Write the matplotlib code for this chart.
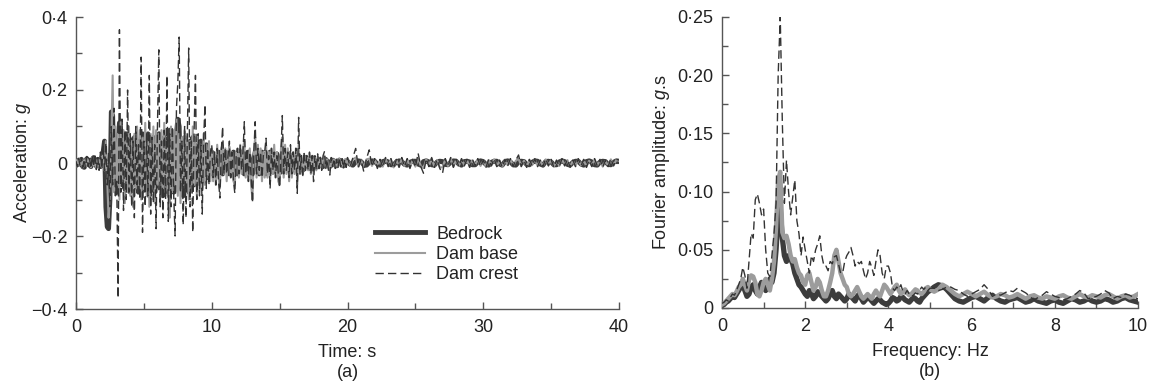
import numpy as np
import matplotlib
matplotlib.use("Agg")
import matplotlib.pyplot as plt
from matplotlib.ticker import MultipleLocator, FuncFormatter

plt.rcParams['font.family'] = ['Liberation Sans', 'DejaVu Sans']
plt.rcParams['mathtext.fontset'] = 'custom'
plt.rcParams['mathtext.it'] = 'Liberation Sans:italic'
plt.rcParams['mathtext.rm'] = 'Liberation Sans'

# ---------------- time histories (g) ----------------
# 0-20 s at 0.1 s, then 20.2-40 s at 0.2 s
time_early = np.round(np.arange(0, 20.001, 0.1), 2)
time_late = np.round(np.arange(20.2, 40.001, 0.2), 2)
time_s = np.concatenate([time_early, time_late])

crest_early = [
    0.005, -0.010, 0.012, -0.008, 0.015, -0.012, 0.010, -0.015, 0.018, -0.010,
    0.012, -0.015, 0.022, -0.010, 0.025, -0.018, 0.015, -0.020, 0.030, -0.015,
    0.045, -0.020, 0.055, -0.060, 0.030, -0.120, 0.100, -0.060, 0.150, -0.090,
    -0.050, -0.370, 0.365, -0.080, 0.120, -0.130, 0.090, -0.100, 0.200, -0.080,
    0.080, -0.120, 0.060, -0.150, 0.100, -0.060, 0.050, -0.100, 0.290, -0.190,
    0.060, -0.120, 0.080, -0.090, 0.240, -0.140, 0.070, -0.110, 0.050, -0.180,
    0.100, 0.310, -0.120, 0.060, -0.150, 0.090, -0.100, 0.240, -0.160, 0.080,
    -0.120, 0.100, -0.090, -0.200, 0.150, 0.220, 0.345, -0.080, 0.060, -0.170,
    0.100, -0.150, 0.070, 0.315, -0.120, 0.060, -0.190, 0.090, 0.240, -0.100,
    0.080, -0.090, 0.050, -0.140, 0.060, 0.160, -0.070, 0.040, -0.060, 0.030,
    0.050, -0.040, 0.030, -0.060, 0.040, -0.050, -0.096, 0.030, 0.100, -0.030,
    0.040, -0.030, 0.020, 0.060, -0.040, 0.030, -0.050, -0.083, 0.020, 0.040,
    -0.030, 0.050, -0.020, 0.030, 0.113, -0.030, 0.040, -0.050, 0.030, -0.040,
    -0.109, 0.030, 0.113, -0.030, 0.040, -0.020, 0.030, -0.040, 0.020, 0.030,
    0.068, -0.030, 0.020, -0.070, 0.040, -0.020, 0.030, -0.040, 0.020, -0.030,
    -0.067, 0.030, 0.130, -0.030, 0.040, -0.020, 0.030, -0.040, 0.050, -0.030,
    0.030, -0.020, 0.040, -0.083, 0.125, -0.030, 0.020, -0.040, 0.030, -0.020,
    0.020, -0.020, 0.030, -0.030, 0.020, -0.051, 0.020, -0.020, 0.025, -0.015,
    0.015, -0.020, 0.020, 0.031, -0.015, 0.010, -0.020, -0.033, 0.015, -0.010,
    0.012, -0.015, 0.010, -0.012, 0.015, -0.010, 0.012, -0.015, 0.010, -0.012,
    0.015,
]
crest_late = [
    -0.010, 0.015, 0.040, -0.012, 0.010,
    -0.024, 0.012, 0.036, -0.010, 0.012,
    -0.015, 0.010, -0.012, 0.015, -0.010,
    0.012, -0.015, 0.010, -0.012, 0.015,
    -0.010, 0.012, -0.015, 0.010, -0.012,
    0.027, -0.010, -0.028, 0.012, -0.010,
    0.015, -0.012, 0.010, -0.015, -0.028,
    0.012, -0.010, 0.015, -0.012, 0.010,
    -0.010, 0.012, -0.008, 0.010, -0.012,
    0.010, -0.008, 0.012, -0.010, 0.008,
    -0.012, 0.010, -0.008, 0.012, -0.010,
    0.008, -0.012, 0.010, -0.008, 0.012,
    -0.010, 0.008, 0.022, -0.010, 0.008,
    -0.012, 0.010, -0.008, 0.012, -0.010,
    0.008, -0.010, 0.012, -0.008, 0.010,
    -0.012, 0.008, -0.010, 0.012, -0.008,
    0.010, -0.012, 0.008, -0.010, 0.012,
    -0.008, 0.010, -0.012, 0.008, -0.010,
    0.012, -0.008, 0.010, -0.012, 0.008,
    -0.010, 0.012, -0.008, 0.010, 0.008,
]

bedrock_early = [
    0.005, -0.005, 0.008, -0.003, 0.010, -0.010, -0.012, 0.005, 0.012, 0.008,
    -0.005, -0.010, 0.010, 0.015, -0.005, -0.008, 0.010, 0.005, -0.010, 0.005,
    0.030, 0.060, -0.120, -0.175, -0.180, -0.100, 0.140, 0.130, -0.050, 0.060,
    -0.080, 0.050, 0.110, 0.090, -0.060, 0.040, -0.070, 0.080, -0.050, 0.070,
    -0.080, 0.060, -0.040, 0.070, -0.060, 0.050, -0.080, 0.060, -0.050, 0.080,
    -0.070, 0.050, -0.060, 0.080, -0.090, 0.060, -0.040, 0.070, -0.080, 0.050,
    -0.060, 0.080, -0.070, 0.050, -0.090, 0.070, -0.050, 0.060, -0.080, 0.090,
    -0.060, 0.070, -0.080, 0.050, 0.080, 0.120, 0.100, -0.070, 0.060, -0.090,
    0.070, -0.060, 0.050, -0.080, 0.060, -0.050, 0.070, -0.060, 0.040, -0.050,
    0.050, -0.040, 0.060, -0.050, 0.040, -0.030, 0.050, -0.040, 0.030, -0.030,
    0.030, 0.020, -0.020, -0.030, 0.010, 0.030, 0.020, -0.020, -0.030, 0.000,
    0.030, 0.025, -0.010, -0.030, -0.020, 0.020, 0.030, 0.010, -0.020, -0.030,
    0.000, 0.025, 0.030, -0.010, -0.030, -0.020, 0.020, 0.030, 0.000, -0.025,
    -0.030, 0.010, 0.030, 0.020, -0.020, -0.030, 0.000, 0.030, 0.020, -0.020,
    -0.030, -0.010, 0.020, 0.030, 0.000, -0.025, -0.020, 0.010, 0.025, 0.010,
    -0.020, -0.025, 0.000, 0.020, 0.025, -0.010, -0.020, -0.010, 0.020, 0.020,
    0.000, -0.020, -0.015, 0.010, 0.020, 0.010, -0.015, -0.020, 0.000, 0.015,
    0.015, -0.010, -0.015, 0.005, 0.015, 0.010, -0.010, -0.012, 0.005, 0.010,
    0.008, -0.008, -0.010, 0.005, 0.010, 0.005, -0.008, -0.010, 0.005, 0.008,
    0.006, -0.006, -0.008, 0.004, 0.008, 0.005, -0.006, -0.008, 0.004, 0.006,
    0.005,
]
bedrock_late = [
    -0.004, -0.006, 0.003, 0.006, 0.004,
    -0.005, -0.006, 0.002, 0.006, 0.005,
    -0.003, -0.006, 0.004, 0.006, 0.003,
    -0.005, -0.005, 0.003, 0.006, 0.004,
    -0.004, -0.006, 0.002, 0.005, 0.005,
    -0.003, -0.006, 0.004, 0.006, 0.003,
    -0.005, -0.006, 0.003, 0.005, 0.004,
    -0.004, -0.005, 0.002, 0.006, 0.005,
    -0.003, -0.006, 0.004, 0.005, 0.003,
    -0.005, -0.005, 0.003, 0.006, 0.004,
    -0.004, -0.006, 0.002, 0.005, 0.005,
    -0.003, -0.006, 0.004, 0.006, 0.003,
    -0.005, -0.006, 0.003, 0.005, 0.004,
    -0.004, -0.005, 0.002, 0.006, 0.005,
    -0.003, -0.006, 0.004, 0.005, 0.003,
    -0.005, -0.005, 0.003, 0.006, 0.004,
    -0.004, -0.006, 0.002, 0.005, 0.005,
    -0.003, -0.006, 0.004, 0.006, 0.003,
    -0.005, -0.006, 0.003, 0.005, 0.004,
    -0.004, -0.005, 0.002, 0.006, 0.005,
]

base_early = [
    0.008, -0.010, 0.012, -0.006, 0.010, -0.012, 0.008, -0.010, 0.014, -0.008,
    0.010, -0.012, 0.015, -0.008, 0.012, -0.015, 0.010, -0.012, 0.018, -0.010,
    0.030, -0.020, 0.060, -0.050, -0.150, -0.100, 0.050, 0.240, -0.080, 0.100,
    -0.060, 0.080, -0.100, 0.120, -0.050, 0.090, -0.110, 0.070, -0.080, 0.100,
    -0.090, 0.060, -0.120, 0.080, -0.070, 0.100, -0.060, 0.090, -0.100, 0.070,
    -0.080, 0.110, -0.090, 0.060, -0.120, 0.080, -0.070, 0.100, -0.110, 0.090,
    -0.060, 0.080, -0.100, 0.090, -0.070, 0.110, -0.080, 0.060, -0.090, -0.150,
    0.100, -0.080, 0.090, -0.060, 0.120, -0.090, 0.080, -0.110, 0.070, -0.060,
    0.090, -0.070, 0.080, -0.100, 0.060, -0.080, 0.100, -0.060, 0.070, -0.090,
    0.060, -0.080, 0.050, -0.070, 0.080, -0.060, 0.050, -0.040, 0.060, -0.050,
    0.040, -0.050, 0.030, -0.060, 0.050, -0.040, -0.070, 0.040, 0.050, -0.030,
    0.040, -0.050, 0.030, 0.045, -0.040, 0.030, -0.050, -0.060, 0.030, 0.040,
    -0.040, 0.050, -0.030, 0.040, 0.060, -0.040, 0.030, -0.050, 0.040, -0.060,
    -0.100, 0.030, 0.070, -0.040, 0.050, -0.030, 0.040, -0.050, 0.030, -0.040,
    0.050, -0.040, 0.030, -0.050, 0.040, -0.030, 0.050, -0.040, 0.030, -0.050,
    -0.060, 0.040, 0.070, -0.040, 0.050, -0.030, 0.040, -0.050, 0.030, -0.040,
    0.030, -0.030, 0.040, -0.060, 0.050, -0.030, 0.020, -0.030, 0.025, -0.020,
    0.020, -0.020, 0.025, -0.030, 0.020, -0.030, 0.015, -0.020, 0.018, -0.015,
    0.015, -0.015, 0.012, 0.020, -0.012, 0.010, -0.015, -0.020, 0.012, -0.010,
    0.010, -0.012, 0.010, -0.010, 0.012, -0.010, 0.010, -0.012, 0.010, -0.010,
    0.012,
]
base_late = [
    -0.008, 0.010, 0.015, -0.010, 0.008,
    -0.012, 0.010, 0.012, -0.008, 0.010,
    -0.010, 0.008, -0.010, 0.012, -0.008,
    0.010, -0.012, 0.008, -0.010, 0.012,
    -0.008, 0.010, -0.012, 0.008, -0.010,
    0.012, -0.008, -0.014, 0.010, -0.008,
    0.012, -0.010, 0.008, -0.012, -0.012,
    0.010, -0.008, 0.012, -0.010, 0.008,
    -0.008, 0.010, -0.006, 0.008, -0.010,
    0.008, -0.006, 0.010, -0.008, 0.006,
    -0.010, 0.008, -0.006, 0.010, -0.008,
    0.006, -0.010, 0.008, -0.006, 0.010,
    -0.008, 0.006, 0.012, -0.008, 0.006,
    -0.010, 0.008, -0.006, 0.010, -0.008,
    0.006, -0.008, 0.010, -0.006, 0.008,
    -0.010, 0.006, -0.008, 0.010, -0.006,
    0.008, -0.010, 0.006, -0.008, 0.010,
    -0.006, 0.008, -0.010, 0.006, -0.008,
    0.010, -0.006, 0.008, -0.010, 0.006,
    -0.008, 0.010, -0.006, 0.008, 0.006,
]

bedrock_acc = np.array(bedrock_early + bedrock_late)
base_acc = np.array(base_early + base_late)
crest_acc = np.array(crest_early + crest_late)

# ---------------- Fourier spectra (g.s) ----------------
freq_low = np.round(np.arange(0, 5.001, 0.05), 3)
freq_high = np.round(np.arange(5.1, 10.001, 0.1), 3)
freq_hz = np.concatenate([freq_low, freq_high])

crest_fa = [
    0.004, 0.005, 0.007, 0.006, 0.009, 0.012, 0.011, 0.015, 0.020, 0.025,
    0.035, 0.028, 0.017, 0.040, 0.064, 0.060, 0.093, 0.098, 0.090, 0.080,
    0.085, 0.050, 0.030, 0.027, 0.045, 0.064, 0.090, 0.200, 0.250, 0.160,
    0.090, 0.127, 0.100, 0.080, 0.095, 0.110, 0.075, 0.064, 0.045, 0.061,
    0.050, 0.040, 0.030, 0.045, 0.040, 0.050, 0.055, 0.062, 0.045, 0.036,
    0.036, 0.032, 0.040, 0.038, 0.044, 0.045, 0.038, 0.030, 0.030, 0.040,
    0.045, 0.048, 0.052, 0.045, 0.036, 0.040, 0.038, 0.040, 0.032, 0.025,
    0.030, 0.040, 0.035, 0.028, 0.040, 0.050, 0.045, 0.030, 0.025, 0.036,
    0.036, 0.030, 0.017, 0.015, 0.018, 0.016, 0.020, 0.014, 0.012, 0.015,
    0.012, 0.010, 0.011, 0.013, 0.012, 0.015, 0.018, 0.016, 0.018, 0.015,
    0.017,
    0.017, 0.015, 0.016, 0.018, 0.018, 0.016, 0.015, 0.012, 0.010, 0.012,
    0.014, 0.016, 0.020, 0.016, 0.010, 0.012, 0.011, 0.013, 0.015, 0.014,
    0.017, 0.015, 0.013, 0.010, 0.007, 0.009, 0.011, 0.014, 0.012, 0.010,
    0.009, 0.007, 0.008, 0.010, 0.012, 0.015, 0.013, 0.008, 0.009, 0.010,
    0.012, 0.015, 0.013, 0.008, 0.010, 0.009, 0.012, 0.011, 0.009, 0.008,
]
bedrock_fa = [
    0.002, 0.003, 0.005, 0.006, 0.008, 0.010, 0.009, 0.012, 0.015, 0.018,
    0.020, 0.015, 0.010, 0.012, 0.018, 0.020, 0.015, 0.012, 0.018, 0.022,
    0.020, 0.015, 0.018, 0.025, 0.022, 0.030, 0.050, 0.080, 0.085, 0.060,
    0.045, 0.040, 0.045, 0.042, 0.038, 0.030, 0.025, 0.020, 0.018, 0.015,
    0.012, 0.010, 0.015, 0.012, 0.008, 0.010, 0.014, 0.012, 0.010, 0.008,
    0.006, 0.008, 0.012, 0.015, 0.010, 0.008, 0.012, 0.010, 0.008, 0.006,
    0.008, 0.012, 0.010, 0.008, 0.006, 0.010, 0.012, 0.008, 0.005, 0.007,
    0.010, 0.008, 0.006, 0.004, 0.006, 0.008, 0.007, 0.005, 0.004, 0.003,
    0.004, 0.006, 0.009, 0.008, 0.006, 0.007, 0.010, 0.009, 0.007, 0.006,
    0.005, 0.007, 0.009, 0.008, 0.006, 0.005, 0.008, 0.010, 0.012, 0.014,
    0.015,
    0.018, 0.020, 0.019, 0.016, 0.012, 0.008, 0.006, 0.005, 0.007, 0.009,
    0.010, 0.008, 0.006, 0.009, 0.011, 0.008, 0.006, 0.005, 0.007, 0.008,
    0.009, 0.007, 0.005, 0.006, 0.008, 0.006, 0.005, 0.004, 0.006, 0.007,
    0.005, 0.004, 0.006, 0.008, 0.007, 0.005, 0.006, 0.008, 0.006, 0.005,
    0.006, 0.008, 0.007, 0.005, 0.006, 0.008, 0.009, 0.007, 0.006, 0.005,
]
base_fa = [
    0.003, 0.004, 0.006, 0.008, 0.010, 0.012, 0.011, 0.014, 0.018, 0.020,
    0.025, 0.020, 0.015, 0.024, 0.028, 0.027, 0.022, 0.012, 0.010, 0.015,
    0.022, 0.025, 0.020, 0.015, 0.025, 0.040, 0.070, 0.110, 0.117, 0.065,
    0.060, 0.062, 0.055, 0.045, 0.040, 0.042, 0.035, 0.030, 0.028, 0.022,
    0.020, 0.028, 0.030, 0.022, 0.015, 0.018, 0.025, 0.022, 0.015, 0.010,
    0.010, 0.015, 0.022, 0.030, 0.045, 0.050, 0.040, 0.030, 0.025, 0.020,
    0.018, 0.012, 0.010, 0.012, 0.015, 0.018, 0.014, 0.010, 0.008, 0.010,
    0.012, 0.010, 0.008, 0.012, 0.015, 0.012, 0.010, 0.015, 0.020, 0.018,
    0.015, 0.012, 0.015, 0.018, 0.020, 0.015, 0.012, 0.014, 0.016, 0.013,
    0.011, 0.012, 0.014, 0.016, 0.015, 0.013, 0.012, 0.014, 0.017, 0.018,
    0.016,
    0.014, 0.016, 0.020, 0.018, 0.015, 0.012, 0.010, 0.012, 0.014, 0.012,
    0.010, 0.012, 0.014, 0.011, 0.009, 0.010, 0.012, 0.011, 0.009, 0.010,
    0.012, 0.010, 0.008, 0.010, 0.011, 0.009, 0.008, 0.010, 0.009, 0.008,
    0.010, 0.011, 0.009, 0.008, 0.010, 0.012, 0.010, 0.009, 0.011, 0.010,
    0.009, 0.011, 0.012, 0.010, 0.008, 0.010, 0.011, 0.009, 0.010, 0.012,
]

labels = ["Bedrock", "Dam base", "Dam crest"]
dark = "#3c3c3c"
gray = "#9c9c9c"
dash_col = "#333333"
txt_col = "#222222"
spine_col = "#555555"
FS = 13


def fmt_dot(decimals):
    def f(v, pos):
        if abs(v) < 1e-9:
            return "0"
        s = f"{abs(v):.{decimals}f}".replace(".", "\u00b7")
        return ("\u2212" + s) if v < 0 else s
    return FuncFormatter(f)


def style(ax):
    for side in ("top", "right"):
        ax.spines[side].set_visible(False)
    for side in ("left", "bottom"):
        ax.spines[side].set_color(spine_col)
        ax.spines[side].set_linewidth(1.0)
    ax.tick_params(which="both", direction="in", colors=spine_col,
                   labelcolor=txt_col, labelsize=FS)
    ax.tick_params(which="major", length=5, width=1.0)
    ax.tick_params(which="minor", length=4, width=1.0)
    ax.tick_params(axis="x", which="major", pad=7)
    ax.tick_params(axis="y", which="major", pad=6)


fig = plt.figure(figsize=(11.52, 3.88), dpi=100)

# ---- panel (a) ----
axa = fig.add_axes([76 / 1152, 1 - 309 / 388, 543 / 1152, 292 / 388])
axa.axhline(0, color="#444444", lw=0.8, zorder=1)
axa.plot(time_s, bedrock_acc, color=dark, lw=3.5, label=labels[0], zorder=2)
axa.plot(time_s, base_acc, color=gray, lw=1.5, label=labels[1], zorder=3)
axa.plot(time_s, crest_acc, color=dash_col, lw=1.0, ls=(0, (6, 3)),
         label=labels[2], zorder=4)
axa.set_xlim(0, 40)
axa.set_ylim(-0.4, 0.4)
axa.xaxis.set_major_locator(MultipleLocator(10))
axa.xaxis.set_minor_locator(MultipleLocator(5))
axa.yaxis.set_major_locator(MultipleLocator(0.2))
axa.yaxis.set_minor_locator(MultipleLocator(0.1))
axa.yaxis.set_major_formatter(fmt_dot(1))
style(axa)
axa.set_xlabel("Time: s\n(a)", fontsize=FS, color=txt_col, labelpad=6,
               linespacing=1.25)
axa.set_ylabel("Acceleration: $g$", fontsize=FS, color=txt_col, labelpad=-1)
leg = axa.legend(loc="upper left", bbox_to_anchor=(0.551, 0.285),
                 frameon=False, fontsize=FS, handlelength=2.77,
                 handletextpad=0.6, labelspacing=0.18, borderpad=0,
                 borderaxespad=0)
for t in leg.get_texts():
    t.set_color(txt_col)

# ---- panel (b) ----
axb = fig.add_axes([722 / 1152, 1 - 308 / 388, 416 / 1152, 291 / 388])
axb.plot(freq_hz, bedrock_fa, color=dark, lw=3.8, zorder=2)
axb.plot(freq_hz, base_fa, color=gray, lw=3.2, zorder=3)
axb.plot(freq_hz, crest_fa, color=dash_col, lw=1.0, ls=(0, (6, 3)), zorder=4)
axb.set_xlim(0, 10)
axb.set_ylim(0, 0.25)
axb.xaxis.set_major_locator(MultipleLocator(2))
axb.xaxis.set_minor_locator(MultipleLocator(1))
axb.yaxis.set_major_locator(MultipleLocator(0.05))
axb.yaxis.set_minor_locator(MultipleLocator(0.025))
axb.yaxis.set_major_formatter(fmt_dot(2))
style(axb)
axb.set_xlabel("Frequency: Hz\n(b)", fontsize=FS, color=txt_col, labelpad=6,
               linespacing=1.25)
axb.set_ylabel("Fourier amplitude: $g$.s", fontsize=FS, color=txt_col,
               labelpad=4)

fig.savefig("out.png", dpi=100)
